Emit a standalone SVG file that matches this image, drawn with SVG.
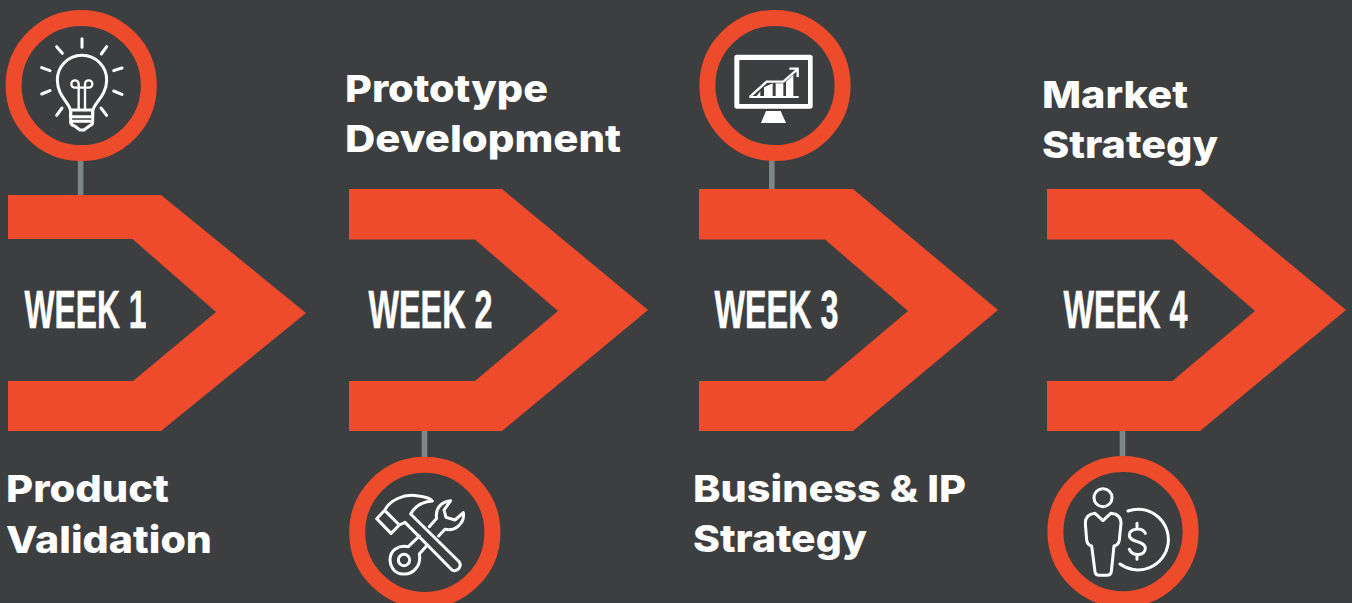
<svg xmlns="http://www.w3.org/2000/svg" width="1352" height="603" viewBox="0 0 1352 603">
<style>
.bg{fill:#3d3e40}
.chev{fill:#ee4b2c}
.ring{fill:#3d3e40;stroke:#ee4b2c;stroke-width:16}
.conn{fill:#7f8687}
.wk{font-family:"Liberation Sans",Arial,sans-serif;font-weight:700;font-size:53.500px;fill:#fff;stroke:#fff;stroke-width:.5px}
.hd{font-family:Inter,"Liberation Sans",sans-serif;font-weight:800;font-size:37.500px;fill:#fff}
.ic{fill:none;stroke:#fff;stroke-width:9;stroke-linecap:round;stroke-linejoin:round}
.icf{fill:#fff}
.icb{fill:#3d3e40}
.thin{stroke-width:7}
.arr{stroke-width:7;stroke-linecap:butt;stroke-linejoin:miter}
</style>
<rect class="bg" width="1352" height="603"/>
<g id="connectors">
<rect class="conn" x="77.800" y="160" width="5.600" height="36"/>
<rect class="conn" x="421.700" y="430" width="5.600" height="28"/>
<rect class="conn" x="769" y="160" width="5.600" height="30"/>
<rect class="conn" x="1119.700" y="430" width="5.600" height="28"/>
</g>
<g id="week1">
<polygon class="chev" points="8,195 161,195 306,313 161,431 8,431 8,381 133,381 216,312 132.500,239 8,239"/>
<text class="wk" x="24.500" y="327.500" textLength="122" lengthAdjust="spacingAndGlyphs">WEEK 1</text>
<circle class="ring" cx="81.200" cy="85.500" r="67.600"/>
<g transform="scale(.33333)">
<path class="ic" d="M212 350V335C212 310 172 290 172 240A74 74 0 0 1 320 240C320 290 278 310 278 335V350"/>
<path class="ic" d="M212 330H278V366Q278 375 268 378L252 390H240L224 378Q212 375 212 366ZM212 350H278M212 364H278"/>
<path class="ic thin" d="M236 330V252A11 11 0 1 0 225 263H266A11 11 0 1 0 255 252V330"/>
<path class="ic" d="M246 116V142M170 140L187 160M320 140L304 162M125 203L150 212M366 204L341 212M125 282L150 272M366 283L341 273M186 324L170 346M303 324L320 346"/>
</g>
<text class="hd" x="6" y="502" textLength="163" lengthAdjust="spacingAndGlyphs">Product</text>
<text class="hd" x="6" y="553" textLength="206" lengthAdjust="spacingAndGlyphs">Validation</text>
</g>
<g id="week2">
<polygon class="chev" points="349,189 502,189 648,310 502,431 349,431 349,381 475,381 558,311 475,239.500 349,239.500"/>
<text class="wk" x="368.500" y="327.500" textLength="124" lengthAdjust="spacingAndGlyphs">WEEK 2</text>
<circle class="ring" cx="424.800" cy="532.400" r="67.600"/>
<g transform="translate(340 430) scale(.33333)">
<path class="ic" d="M110 266L134 241C150 210 190 192 230 197C255 200 272 205 277 213C250 215 225 228 212 252L358 396A17 17 0 0 1 336 420L195 277L178 285L153 310ZM134 241L178 285"/>
<path class="ic" d="M268 290L290 265C285 240 300 215 332 212L312 240L318 262L345 270L370 248C375 280 345 305 315 298L296 318M262 345L238 372C245 410 215 435 190 432C160 432 150 405 150 390C150 360 175 345 205 350L238 318"/>
<circle class="ic" cx="192" cy="390" r="17"/>
</g>
<text class="hd" x="345" y="101.700" textLength="203" lengthAdjust="spacingAndGlyphs">Prototype</text>
<text class="hd" x="345" y="151.700" textLength="276" lengthAdjust="spacingAndGlyphs">Development</text>
</g>
<g id="week3">
<polygon class="chev" points="699,189 853,189 998,310 853,431 699,431 699,381 825,381 908,311 825,239.500 699,239.500"/>
<text class="wk" x="714.500" y="327.500" textLength="124" lengthAdjust="spacingAndGlyphs">WEEK 3</text>
<circle class="ring" cx="775" cy="85.500" r="67.600"/>
<g transform="translate(690 0) scale(.33333)">
<rect class="icf" x="133" y="164" width="235" height="162" rx="8"/>
<rect class="icb" x="148" y="180" width="206" height="132"/>
<polygon class="icf" points="228,333 272,333 288,369 213,369"/>
<rect class="icf" x="178" y="288" width="148" height="6"/>
<polygon class="icf" points="200,288 211,274 211,288"/>
<polygon class="icf" points="222,262 248,250 248,288 222,288"/>
<rect class="icf" x="257" y="250" width="23" height="38"/>
<polygon class="icf" points="288,245 310,224 310,288 288,288"/>
<path class="ic arr" d="M180 290L230 245H280L322 208M298 206H323V231"/>
</g>
<text class="hd" x="693" y="502" textLength="273" lengthAdjust="spacingAndGlyphs">Business &amp; IP</text>
<text class="hd" x="693" y="552" textLength="174" lengthAdjust="spacingAndGlyphs">Strategy</text>
</g>
<g id="week4">
<polygon class="chev" points="1047,189 1200,189 1346,310 1200,431 1047,431 1047,381 1172.500,381 1255,311 1172.500,239.500 1047,239.500"/>
<text class="wk" x="1063.500" y="327.500" textLength="124" lengthAdjust="spacingAndGlyphs">WEEK 4</text>
<circle class="ring" cx="1123" cy="531.700" r="67.600"/>
<g transform="translate(1040 430) scale(.33333)">
<circle class="ic" cx="189" cy="203" r="27"/>
<path class="ic" d="M165 250C145 252 136 262 136 280L140 330Q142 345 155 348L165 425Q167 436 178 436H200Q212 436 214 425L222 348Q236 345 238 330L243 280C243 262 235 252 212 250L189 272Z"/>
<path class="ic" d="M264 243A91 91 0 1 1 240 402"/>
<path class="ic" d="M316 310C305 290 268 295 268 315C268 340 316 330 316 355C316 378 278 380 268 358M291 280V290M291 378V388"/>
</g>
<text class="hd" x="1042" y="108" textLength="146" lengthAdjust="spacingAndGlyphs">Market</text>
<text class="hd" x="1042" y="158" textLength="176" lengthAdjust="spacingAndGlyphs">Strategy</text>
</g>
</svg>
